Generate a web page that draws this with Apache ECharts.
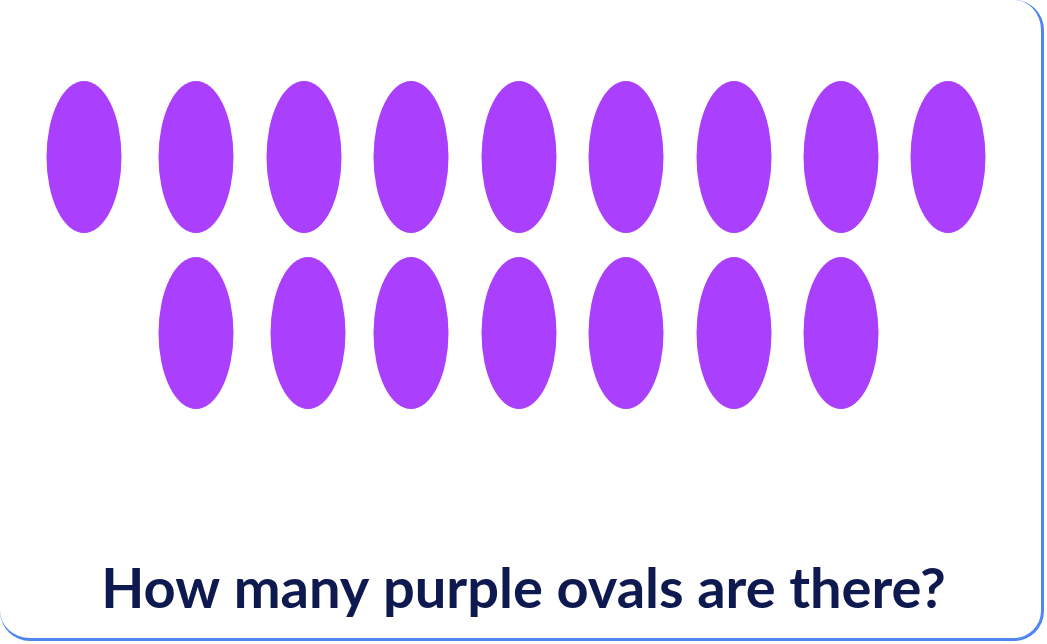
<!DOCTYPE html>
<html lang="en">
<head>
<meta charset="UTF-8">
<title>Purple ovals</title>
<script src="https://cdn.jsdelivr.net/npm/echarts@6/dist/echarts.min.js"></script>
<style>
  html, body { margin: 0; padding: 0; background: #fff; }
  #card {
    position: absolute; left: 0; top: 0; width: 1041px; height: 638px;
    border-right: 3px solid #4f86f0; border-bottom: 3px solid #4f86f0;
    border-radius: 0 30px 30px 30px; background: #fff;
  }
  #chart { position: absolute; left: 0; top: 0; width: 1047px; height: 644px; }
</style>
</head>
<body>
<div id="card"></div>
<div id="chart"></div>
<script>
// oval centres, in picture pixels
var row1X = [84, 196, 304, 411, 519, 626, 734, 841, 948];
var row2X = [196, 308, 411, 519, 626, 734, 841];
var row1Y = 157;
var row2Y = 333;
var question = 'How many purple ovals are there?';

var points = [];
row1X.forEach(function (x) { points.push([x, row1Y]); });
row2X.forEach(function (x) { points.push([x, row2Y]); });

var chart = echarts.init(document.getElementById('chart'));
chart.setOption({
    animation: false,
    grid: { left: 0, right: 0, top: 0, bottom: 0 },
    xAxis: { type: 'value', min: 0, max: 1047, show: false },
    yAxis: { type: 'value', min: 0, max: 644, inverse: true, show: false },
    title: {
        text: question,
        left: 'center',
        top: 557,
        textStyle: { fontFamily: 'Lato', fontWeight: 'bold', fontSize: 56, color: '#0e1a4f' }
    },
    series: [{
        type: 'scatter',
        data: points,
        symbol: 'path://M50 0 A50 100 0 1 1 50 200 A50 100 0 1 1 50 0z',
        symbolSize: [75, 152],
        itemStyle: { color: '#aa3ffe', opacity: 1 }
    }]
});
</script>
</body>
</html>
